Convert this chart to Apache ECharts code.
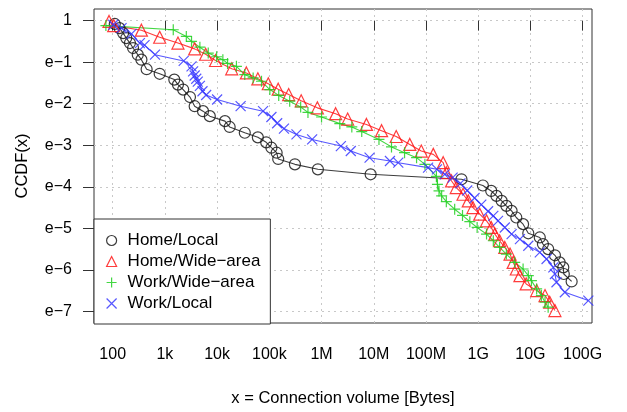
<!DOCTYPE html>
<html>
<head>
<meta charset="utf-8">
<script src="https://cdn.jsdelivr.net/npm/echarts@6/dist/echarts.min.js"></script>
<style>html,body{margin:0;padding:0;background:#fff}#c{width:627px;height:412px}</style>
</head>
<body>
<div id="c"></div>
<script>
// x values are log10(connection volume in bytes); y values are ln(CCDF)
const xTickExponents = [2, 3, 4, 5, 6, 7, 8, 9, 10, 11];
const xTickLabels = ['100', '1k', '10k', '100k', '1M', '10M', '100M', '1G', '10G', '100G'];
const yTickExponents = [-7, -6, -5, -4, -3, -2, -1, 0];
const yTickLabels = ['e\u22127', 'e\u22126', 'e\u22125', 'e\u22124', 'e\u22123', 'e\u22122', 'e\u22121', '1'];
const seriesNames = ['Home/Local', 'Home/Wide\u2212area', 'Work/Wide\u2212area', 'Work/Local'];

const homeLocalX = [2.04, 2.13, 2.20, 2.26, 2.33, 2.39, 2.48, 2.55, 2.65, 2.90, 3.18, 3.25, 3.35, 3.48, 3.57, 3.73, 3.86, 4.15, 4.24, 4.53, 4.78, 4.94, 5.04, 5.14, 5.17, 5.49, 5.93, 6.94, 8.68, 9.09, 9.25, 9.35, 9.45, 9.54, 9.64, 9.73, 9.86, 9.96, 10.18, 10.24, 10.34, 10.47, 10.56, 10.63, 10.64, 10.79];
const homeLocalY = [-0.08, -0.18, -0.30, -0.42, -0.54, -0.66, -0.82, -0.94, -1.17, -1.28, -1.42, -1.54, -1.66, -1.84, -2.06, -2.18, -2.30, -2.42, -2.56, -2.70, -2.81, -2.93, -3.06, -3.18, -3.33, -3.46, -3.58, -3.70, -3.82, -3.97, -4.10, -4.22, -4.34, -4.46, -4.58, -4.74, -4.90, -5.12, -5.22, -5.38, -5.50, -5.65, -5.82, -5.94, -6.10, -6.28];

const homeWideX = [1.93, 2.02, 2.55, 2.90, 3.25, 3.57, 3.78, 3.97, 4.28, 4.56, 4.78, 4.98, 5.17, 5.37, 5.61, 5.92, 6.27, 6.50, 6.86, 7.15, 7.43, 7.69, 7.91, 8.14, 8.33, 8.39, 8.49, 8.58, 8.71, 8.81, 8.90, 9.03, 9.16, 9.25, 9.32, 9.41, 9.51, 9.61, 9.67, 9.73, 9.80, 9.92, 10.12, 10.28, 10.37, 10.47];
const homeWideY = [-0.02, -0.12, -0.23, -0.40, -0.54, -0.68, -0.81, -0.96, -1.16, -1.26, -1.40, -1.52, -1.65, -1.78, -1.93, -2.10, -2.24, -2.37, -2.50, -2.65, -2.79, -2.98, -3.14, -3.22, -3.42, -3.66, -3.86, -4.02, -4.18, -4.34, -4.50, -4.66, -4.82, -4.98, -5.14, -5.30, -5.46, -5.62, -5.82, -5.98, -6.14, -6.34, -6.50, -6.62, -6.78, -6.98];

const workWideX = [1.87, 3.16, 3.41, 3.51, 3.67, 3.83, 3.99, 4.11, 4.20, 4.37, 4.53, 4.69, 4.85, 5.01, 5.18, 5.39, 5.60, 5.74, 6.00, 6.35, 6.58, 6.77, 7.10, 7.34, 7.59, 7.82, 7.98, 8.20, 8.22, 8.25, 8.30, 8.39, 8.55, 8.70, 8.84, 8.98, 9.16, 9.29, 9.41, 9.54, 9.70, 9.86, 9.96, 10.02, 10.12, 10.21, 10.28, 10.34];
const workWideY = [-0.12, -0.22, -0.38, -0.50, -0.64, -0.78, -0.87, -0.94, -1.03, -1.10, -1.30, -1.38, -1.46, -1.66, -1.80, -1.94, -2.08, -2.21, -2.32, -2.48, -2.56, -2.67, -2.86, -3.04, -3.18, -3.30, -3.46, -3.75, -3.94, -4.10, -4.22, -4.36, -4.54, -4.69, -4.84, -4.98, -5.14, -5.30, -5.46, -5.62, -5.82, -5.98, -6.14, -6.26, -6.46, -6.62, -6.78, -6.90];

const workLocalX = [2.01, 2.17, 2.36, 2.52, 2.61, 2.81, 3.36, 3.51, 3.54, 3.57, 3.60, 3.63, 3.67, 3.72, 3.79, 4.00, 4.45, 4.88, 5.04, 5.15, 5.28, 5.52, 5.82, 6.37, 6.56, 6.92, 7.31, 7.47, 8.04, 8.21, 8.36, 8.51, 8.66, 8.79, 8.93, 9.06, 9.19, 9.29, 9.38, 9.51, 9.64, 9.80, 9.96, 10.18, 10.31, 10.44, 10.47, 10.50, 10.66, 11.11];
const workLocalY = [-0.10, -0.18, -0.32, -0.54, -0.59, -0.82, -0.97, -1.10, -1.22, -1.32, -1.40, -1.47, -1.57, -1.70, -1.79, -1.90, -2.06, -2.18, -2.32, -2.47, -2.60, -2.74, -2.86, -3.02, -3.14, -3.30, -3.38, -3.42, -3.54, -3.58, -3.70, -3.78, -3.92, -4.09, -4.27, -4.43, -4.59, -4.70, -4.82, -4.98, -5.14, -5.26, -5.42, -5.58, -5.74, -5.94, -6.10, -6.30, -6.54, -6.74];

const FONT = '"Liberation Sans", Arial, Helvetica, sans-serif';
const pairs = (xs, ys) => xs.map((x, i) => [x, ys[i]]);
const PLUS = 'path://M0,5L10,5M5,0L5,10';
const CROSS = 'path://M0,0L10,10M0,10L10,0';

const colors = ['#1a1a1a', '#ff1a1a', '#22d022', '#3a3aff'];
const symbols = ['circle', 'triangle', PLUS, CROSS];
const sizes = [11, 12, 11, 10];
const datasets = [pairs(homeLocalX, homeLocalY), pairs(homeWideX, homeWideY), pairs(workWideX, workWideY), pairs(workLocalX, workLocalY)];

const chart = echarts.init(document.getElementById('c'), null, {renderer: 'canvas'});
chart.setOption({
  animation: false,
  backgroundColor: '#fff',
  grid: {left: 94, right: 35, top: 9, bottom: 88, show: true, borderColor: '#333', borderWidth: 1, backgroundColor: 'transparent'},
  xAxis: {
    type: 'value', min: 1.642, max: 11.18,
    name: 'x = Connection volume [Bytes]', nameLocation: 'middle', nameGap: 67,
    nameTextStyle: {fontFamily: FONT, fontSize: 16.5, color: '#000'},
    axisLine: {show: false},
    axisTick: {show: true, inside: false, length: 10, customValues: xTickExponents, lineStyle: {color: '#333'}},
    axisLabel: {customValues: xTickExponents, margin: 24, fontFamily: FONT, fontSize: 16, color: '#000',
      formatter: v => xTickLabels[xTickExponents.indexOf(Math.round(v))]},
    splitLine: {show: true, lineStyle: {color: '#c8c8c8', type: [2, 4], width: 1}}
  },
  yAxis: {
    type: 'value', min: -7.28, max: 0.28,
    name: 'CCDF(x)', nameLocation: 'middle', nameGap: 63,
    nameTextStyle: {fontFamily: FONT, fontSize: 16.5, color: '#000'},
    axisLine: {show: false},
    axisTick: {show: true, inside: false, length: 11, customValues: yTickExponents, lineStyle: {color: '#333'}},
    axisLabel: {customValues: yTickExponents, margin: 22, fontFamily: FONT, fontSize: 16, color: '#000',
      formatter: v => yTickLabels[yTickExponents.indexOf(Math.round(v))]},
    splitLine: {show: true, lineStyle: {color: '#c8c8c8', type: [2, 4], width: 1}}
  },
  legend: {
    orient: 'vertical', left: 94, top: 219,
    padding: [13, 10, 12, 12],
    backgroundColor: '#fff', borderColor: '#333', borderWidth: 1,
    itemWidth: 10, itemHeight: 10, itemGap: 4,
    textStyle: {fontFamily: FONT, fontSize: 17, color: '#000', lineHeight: 17, padding: [0, 0, 0, 6]},
    data: seriesNames.map((n, i) => ({
      name: n, icon: symbols[i],
      itemStyle: {color: 'transparent', borderColor: colors[i], borderWidth: 1.2}
    }))
  },
  series: seriesNames.map((n, i) => ({
    name: n, type: 'line', data: datasets[i],
    symbol: symbols[i], symbolSize: sizes[i], showAllSymbol: true,
    lineStyle: {color: colors[i], width: 1.1, opacity: 0.85},
    itemStyle: {color: 'transparent', borderColor: colors[i], borderWidth: 1.2, opacity: 0.85},
    emphasis: {disabled: true}
  }))
});
</script>
</body>
</html>
